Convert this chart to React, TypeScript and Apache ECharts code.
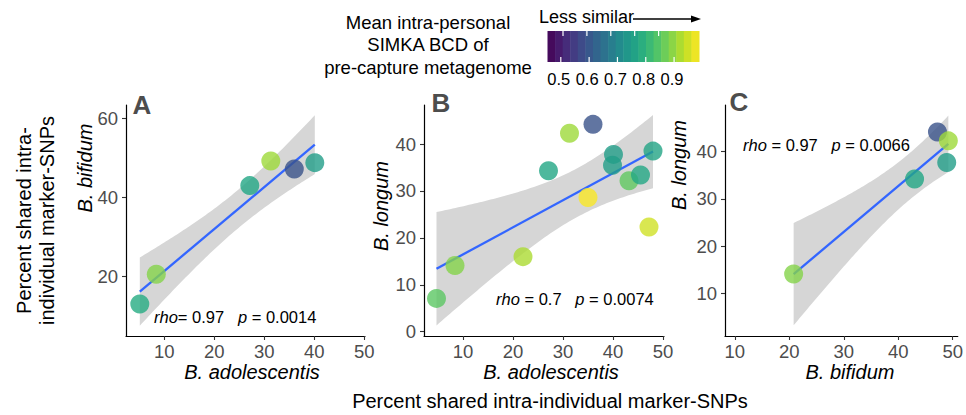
import React, { useEffect, useRef } from "react";
import * as echarts from "echarts";

// ---------- data ----------
const viridisStops = ["#440154", "#482475", "#414487", "#355f8d", "#2a788e", "#21918c", "#22a884", "#44bf70", "#7ad151", "#bddf26", "#fde725"];
const bcdMin = 0.453;
const bcdMax = 0.988;
const legendTicks = [0.5, 0.6, 0.7, 0.8, 0.9];

const xTicks = [10, 20, 30, 40, 50];
const yTicksA = [20, 40, 60];
const yTicksB = [0, 10, 20, 30, 40];
const yTicksC = [10, 20, 30, 40];

// Panel A: B. adolescentis (x) vs B. bifidum (y)
const aX = [5.1, 8.4, 27.1, 31.3, 36.0, 40.1];
const aY = [13.1, 20.6, 43.0, 49.2, 47.2, 48.8];
const aBcd = [0.78, 0.89, 0.77, 0.91, 0.59, 0.75];
// Panel B: B. adolescentis (x) vs B. longum (y)
const bX = [4.7, 8.4, 22.0, 27.1, 31.3, 36.0, 35.0, 40.1, 39.9, 43.2, 45.5, 48.0, 47.2];
const bY = [7.1, 14.1, 16.0, 34.3, 42.3, 44.2, 28.6, 37.8, 35.5, 32.2, 33.4, 38.5, 22.3];
const bBcd = [0.85, 0.89, 0.92, 0.77, 0.91, 0.59, 0.985, 0.75, 0.75, 0.855, 0.775, 0.765, 0.95];
// Panel C: B. bifidum (x) vs B. longum (y)
const cX = [20.8, 43.0, 47.2, 49.2, 48.9];
const cY = [14.1, 34.2, 44.2, 42.3, 37.7];
const cBcd = [0.89, 0.77, 0.59, 0.91, 0.75];

const statA = ["0.97", "0.0014"];
const statB = ["0.7", "0.0074"];
const statC = ["0.97", "0.0066"];

// two-sided 95% t quantiles by degrees of freedom
const tQuant: Record<number, number> = { 3: 3.182, 4: 2.776, 11: 2.201 };

// ---------- helpers ----------
function hexToRgb(h: string) {
  const v = parseInt(h.slice(1), 16);
  return [(v >> 16) & 255, (v >> 8) & 255, v & 255];
}
function viridis(t: number) {
  const tt = Math.max(0, Math.min(1, t)) * (viridisStops.length - 1);
  const i = Math.min(Math.floor(tt), viridisStops.length - 2);
  const f = tt - i;
  const a = hexToRgb(viridisStops[i]);
  const b = hexToRgb(viridisStops[i + 1]);
  const c = a.map((v, k) => Math.round(v + (b[k] - v) * f));
  return `rgb(${c[0]},${c[1]},${c[2]})`;
}

function lmFit(xs: number[], ys: number[]) {
  const n = xs.length;
  const mx = xs.reduce((s, v) => s + v, 0) / n;
  const my = ys.reduce((s, v) => s + v, 0) / n;
  let sxx = 0, sxy = 0;
  for (let i = 0; i < n; i++) {
    sxx += (xs[i] - mx) ** 2;
    sxy += (xs[i] - mx) * (ys[i] - my);
  }
  const b = sxy / sxx;
  const a = my - b * mx;
  let sse = 0;
  for (let i = 0; i < n; i++) sse += (ys[i] - (a + b * xs[i])) ** 2;
  const s = Math.sqrt(sse / (n - 2));
  const tq = tQuant[n - 2];
  const x0 = Math.min(...xs), x1 = Math.max(...xs);
  const band: number[][] = [];
  const steps = 80;
  for (let k = 0; k <= steps; k++) {
    const x = x0 + ((x1 - x0) * k) / steps;
    const yh = a + b * x;
    const se = s * Math.sqrt(1 / n + (x - mx) ** 2 / sxx);
    band.push([x, yh - tq * se, yh + tq * se]);
  }
  return { line: [[x0, a + b * x0], [x1, a + b * x1]], band, center: [mx, my] };
}

const FONT = "'Liberation Sans', Arial, Helvetica, sans-serif";

export default function App() {
  const ref = useRef<HTMLDivElement>(null);
  useEffect(() => {
    if (!ref.current) return;
    const chart = echarts.init(ref.current, null, { renderer: "svg" });

    const panels = [
      { xs: aX, ys: aY, bcd: aBcd, grid: { left: 126, top: 105, width: 239, height: 231 }, xr: [2.34, 50.14], yr: [5.03, 63.35], yt: yTicksA },
      { xs: bX, ys: bY, bcd: bBcd, grid: { left: 424, top: 105, width: 240, height: 231 }, xr: [2.2, 50.2], yr: [-0.92, 48.33], yt: yTicksB },
      { xs: cX, ys: cY, bcd: cBcd, grid: { left: 725, top: 105, width: 238, height: 231 }, xr: [8.2, 50.93], yr: [0.95, 49.9], yt: yTicksC },
    ];

    const grids: any[] = [];
    const xAxes: any[] = [];
    const yAxes: any[] = [];
    const series: any[] = [];
    panels.forEach((p, i) => {
      grids.push({ ...p.grid, containLabel: false });
      const common = {
        gridIndex: i,
        type: "value",
        splitLine: { show: false },
        axisLine: { show: true, onZero: false, lineStyle: { color: "#000", width: 1.2 } },
        axisTick: { show: true, length: 4, lineStyle: { color: "#333", width: 1.1 } },
        axisLabel: { color: "#4d4d4d", fontSize: 18.5, fontFamily: FONT },
      };
      xAxes.push({
        ...common,
        min: p.xr[0],
        max: p.xr[1],
        axisTick: { ...common.axisTick, customValues: xTicks },
        axisLabel: { ...common.axisLabel, customValues: xTicks, margin: 6 },
      });
      yAxes.push({
        ...common,
        min: p.yr[0],
        max: p.yr[1],
        axisTick: { ...common.axisTick, customValues: p.yt },
        axisLabel: { ...common.axisLabel, customValues: p.yt, margin: 8 },
      });
      const fit = lmFit(p.xs, p.ys);
      series.push({
        type: "custom",
        xAxisIndex: i,
        yAxisIndex: i,
        z: 1,
        silent: true,
        clip: true,
        data: [fit.center],
        renderItem: (_params: any, api: any) => {
          const pts: number[][] = [];
          for (const b of fit.band) pts.push(api.coord([b[0], b[2]]));
          for (let k = fit.band.length - 1; k >= 0; k--) pts.push(api.coord([fit.band[k][0], fit.band[k][1]]));
          return { type: "polygon", shape: { points: pts }, style: { fill: "#d6d6d6" } };
        },
      });
      series.push({
        type: "line",
        xAxisIndex: i,
        yAxisIndex: i,
        z: 2,
        silent: true,
        showSymbol: false,
        data: fit.line,
        lineStyle: { color: "#3366FF", width: 2.3 },
      });
      series.push({
        type: "scatter",
        xAxisIndex: i,
        yAxisIndex: i,
        z: 3,
        symbolSize: 19,
        data: p.xs.map((x, k) => [x, p.ys[k], p.bcd[k]]),
      });
    });

    // colourbar
    const barL = 547.5, barR = 699, barT = 31, barB = 62;
    const nbin = 20;
    const graphics: any[] = [];
    for (let k = 0; k < nbin; k++) {
      const w = (barR - barL) / nbin;
      graphics.push({
        type: "rect",
        shape: { x: barL + k * w, y: barT, width: w + 0.5, height: barB - barT },
        style: { fill: viridis((k + 0.5) / nbin) },
        silent: true,
      });
    }
    const valToX = (v: number) => barL + ((v - bcdMin) / (bcdMax - bcdMin)) * (barR - barL);
    legendTicks.forEach((v, k) => {
      const x = valToX(v);
      const xTop = 563 + k * 23.9;
      graphics.push({ type: "line", shape: { x1: xTop, y1: barT, x2: xTop, y2: barT + 5 }, style: { stroke: "#fff", lineWidth: 1.2 }, silent: true });
      graphics.push({ type: "line", shape: { x1: x, y1: barB - 5, x2: x, y2: barB }, style: { stroke: "#fff", lineWidth: 1.2 }, silent: true });
      graphics.push({
        type: "text",
        x: x - 2,
        y: 79,
        style: { text: v.toFixed(1), fill: "#000", fontSize: 16.5, fontFamily: FONT, textAlign: "center", textVerticalAlign: "middle" },
      });
    });
    ["Mean intra-personal", "SIMKA BCD of", "pre-capture metagenome"].forEach((t, k) => {
      graphics.push({
        type: "text",
        x: 428,
        y: 22 + k * 22.5,
        style: { text: t, fill: "#000", fontSize: 18.5, fontFamily: FONT, textAlign: "center", textVerticalAlign: "middle" },
      });
    });
    graphics.push({
      type: "text",
      x: 539,
      y: 17,
      style: { text: "Less similar", fill: "#000", fontSize: 18, fontFamily: FONT, textAlign: "left", textVerticalAlign: "middle" },
    });
    graphics.push({ type: "line", shape: { x1: 633, y1: 19, x2: 694, y2: 19 }, style: { stroke: "#000", lineWidth: 1.6 }, silent: true });
    graphics.push({ type: "polygon", shape: { points: [[701, 19], [691, 15.5], [691, 22.5]] }, style: { fill: "#000" }, silent: true });

    // panel tags
    [["A", 132.5, 104.5], ["B", 431.5, 102.5], ["C", 729.5, 102]].forEach(([t, x, y]) => {
      graphics.push({
        type: "text",
        x: x as number,
        y: y as number,
        style: { text: t as string, fill: "#4d4d4d", fontSize: 26, fontWeight: "bold", fontFamily: FONT, textAlign: "left", textVerticalAlign: "middle" },
      });
    });

    // correlation annotations
    const rich = {
      i: { fontStyle: "italic", fontSize: 16.5, fontFamily: FONT, fill: "#000" },
      n: { fontSize: 16.5, fontFamily: FONT, fill: "#000" },
    };
    [[statA, 154, 317, "= "], [statB, 496, 298.5, " = "], [statC, 743, 145, " = "]].forEach(([s, x, y, eq]) => {
      const st = s as string[];
      graphics.push({
        type: "text",
        x: x as number,
        y: y as number,
        style: {
          text: `{i|rho}{n|${eq}${st[0]}   }{i|p}{n| = ${st[1]}}`,
          rich,
          textAlign: "left",
          textVerticalAlign: "middle",
        },
      });
    });

    // axis titles
    const italicTitle = (text: string, x: number, y: number, rot = 0) => ({
      type: "text",
      x,
      y,
      rotation: rot,
      style: { text, fill: "#000", fontSize: 20, fontStyle: "italic", fontFamily: FONT, textAlign: "center", textVerticalAlign: "middle" },
    });
    graphics.push(italicTitle("B. adolescentis", 252, 372));
    graphics.push(italicTitle("B. adolescentis", 551, 372));
    graphics.push(italicTitle("B. bifidum", 850, 372));
    graphics.push(italicTitle("B. bifidum", 85, 168, Math.PI / 2));
    graphics.push(italicTitle("B. longum", 381, 206, Math.PI / 2));
    graphics.push(italicTitle("B. longum", 679, 165, Math.PI / 2));

    // shared titles
    graphics.push({
      type: "text",
      x: 550,
      y: 401,
      style: { text: "Percent shared intra-individual marker-SNPs", fill: "#000", fontSize: 20, fontFamily: FONT, textAlign: "center", textVerticalAlign: "middle" },
    });
    ["Percent shared intra-", "individual marker-SNPs"].forEach((t, k) => {
      graphics.push({
        type: "text",
        x: 23.5 + k * 23.4,
        y: 220.5,
        rotation: Math.PI / 2,
        style: { text: t, fill: "#000", fontSize: 20, fontFamily: FONT, textAlign: "center", textVerticalAlign: "middle" },
      });
    });

    chart.setOption({
      animation: false,
      backgroundColor: "#fff",
      textStyle: { fontFamily: FONT },
      grid: grids,
      xAxis: xAxes,
      yAxis: yAxes,
      visualMap: {
        type: "continuous",
        show: false,
        min: bcdMin,
        max: bcdMax,
        dimension: 2,
        seriesIndex: [2, 5, 8],
        inRange: { color: viridisStops },
      },
      series,
      graphic: graphics,
    });
    return () => chart.dispose();
  }, []);
  return <div ref={ref} style={{ position: "fixed", left: 0, top: 0, width: 966, height: 415 }} />;
}
